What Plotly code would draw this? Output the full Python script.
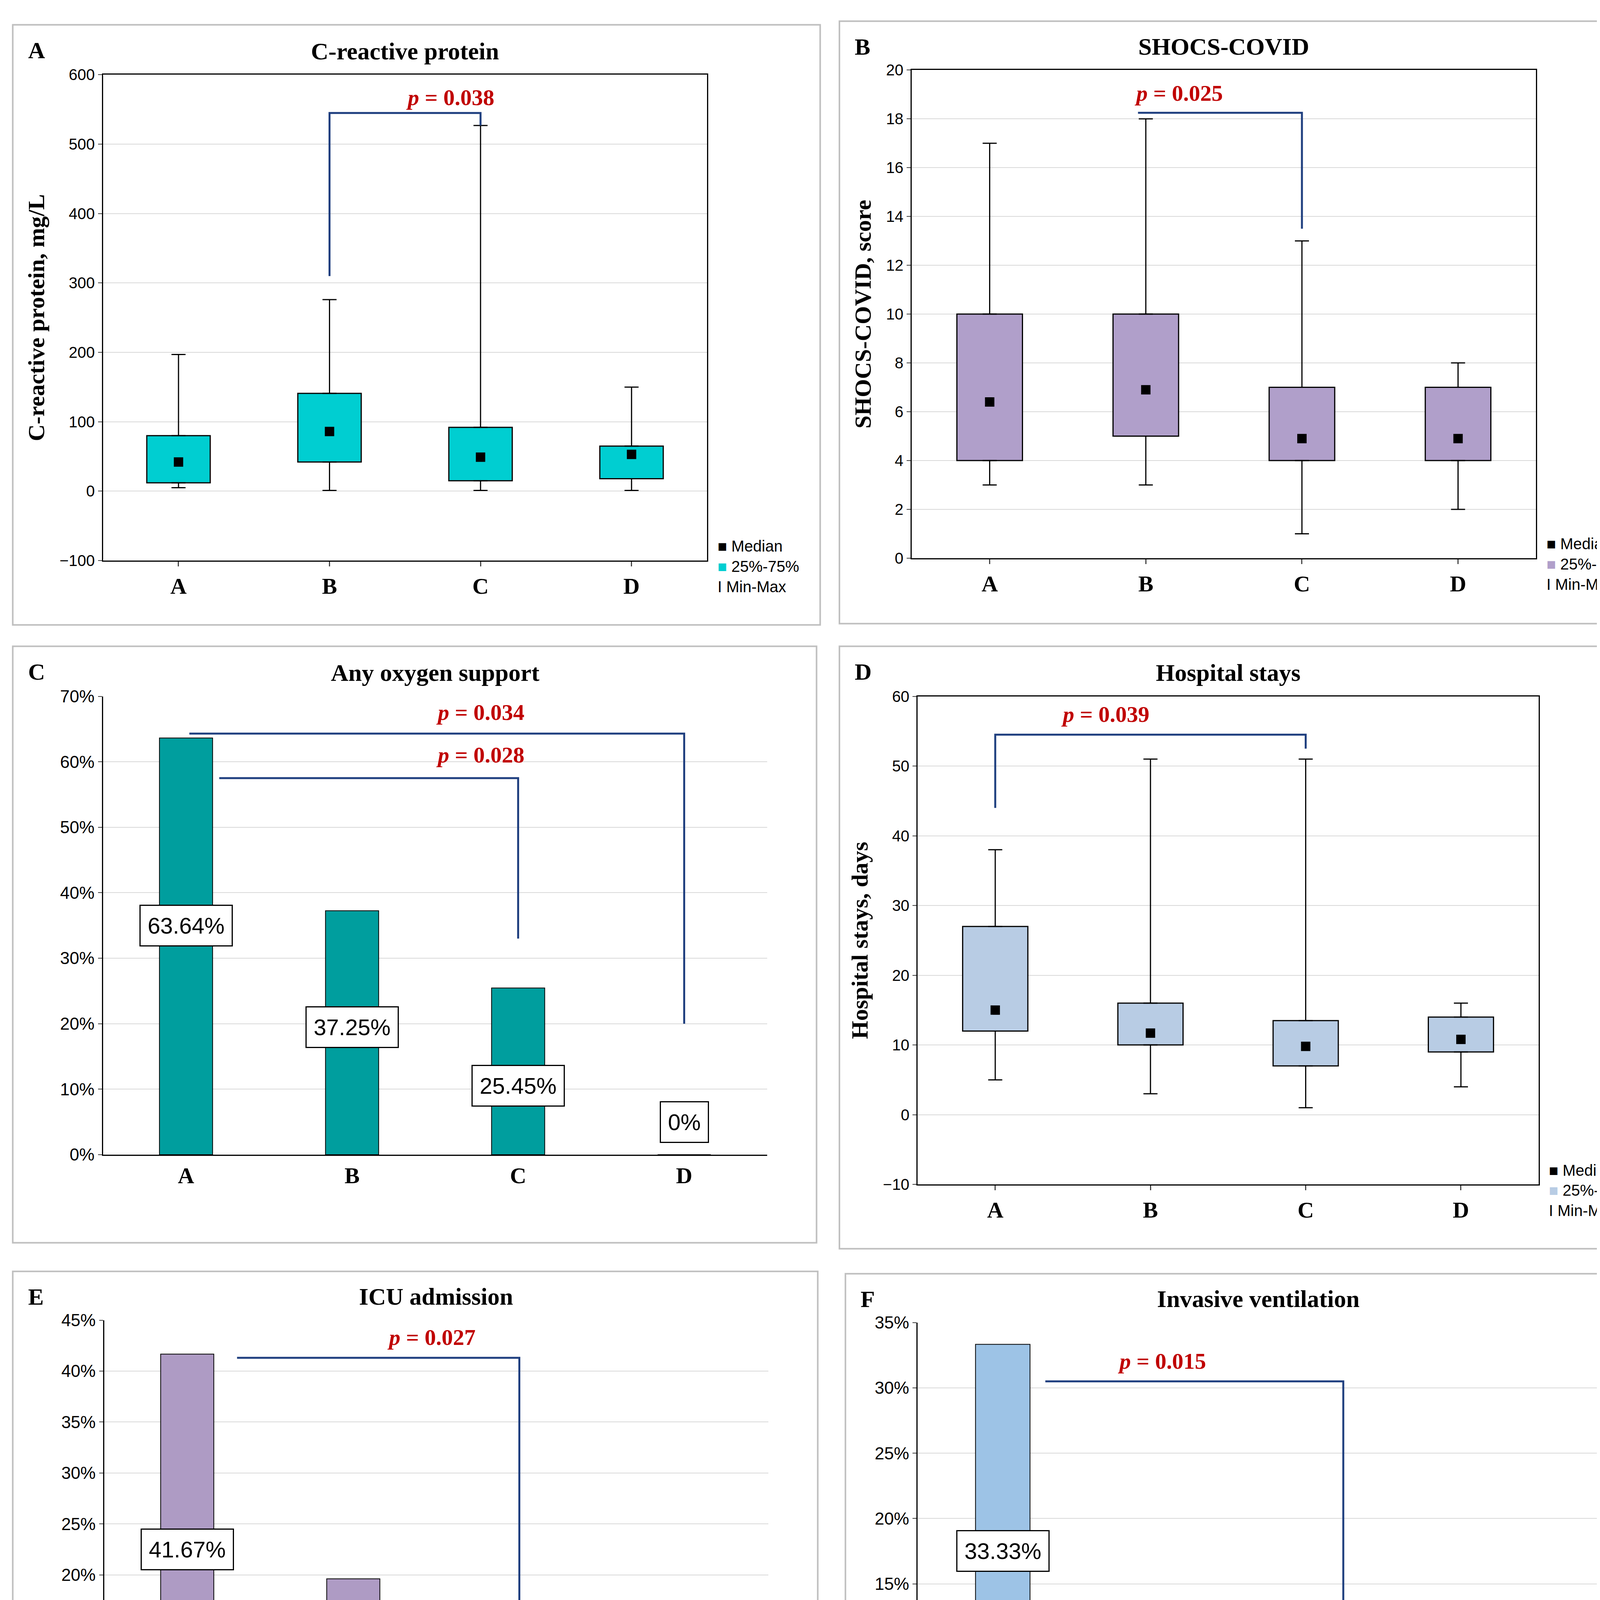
import plotly.graph_objects as go

cats = ["A", "B", "C", "D"]
# box panels: min, q1, median, q3, max
crp_min = [5, 1, 1, 1]; crp_q1 = [12, 42, 15, 18]; crp_med = [42, 86, 49, 53]; crp_q3 = [80, 141, 92, 65]; crp_max = [197, 276, 527, 150]
sh_min = [3, 3, 1, 2]; sh_q1 = [4, 5, 4, 4]; sh_med = [6.4, 6.9, 4.9, 4.9]; sh_q3 = [10, 10, 7, 7]; sh_max = [17, 18, 13, 8]
hs_min = [5, 3, 1, 4]; hs_q1 = [12, 10, 7, 9]; hs_med = [15, 11.7, 9.8, 10.8]; hs_q3 = [27, 16, 13.5, 14]; hs_max = [38, 51, 51, 16]
oxy = [63.64, 37.25, 25.45, 0]
icu = [41.67, 19.61, 10.71, 0]
inv = [33.33, 13.73, 5.36, 0]
oxy_lab_y = [35, 19.5, 10.5, 5]
icu_lab_y = [22.5, 9.3, 4.3, 3]
inv_lab_y = [17.5, 6.5, 2.4, 2]

W, H = 4251, 4819
IW, IH = 1380, 1565
def fx(x): return x / IW
def fy(y): return 1 - y / IH

SERIF = "Liberation Serif"
SANS = "Liberation Sans"
BR = "#1F3F7F"
PC = "#C00000"

fig = go.Figure()
layout = dict(width=W, height=H, paper_bgcolor="white", plot_bgcolor="white",
              margin=dict(l=0, r=0, t=0, b=0), showlegend=False)
shapes, anns = [], []

panels = [
    ("A", (8, 10, 679, 514), (83, 52, 585, 460), "C-reactive protein"),
    ("B", (695, 7, 1369, 513), (755, 48, 1274, 458), "SHOCS-COVID"),
    ("C", (8, 532, 676, 1033), (83, 574, 635, 959), "Any oxygen support"),
    ("D", (695, 532, 1369, 1038), (760, 574, 1276, 984), "Hospital stays"),
    ("E", (8, 1057, 677, 1557), (84, 1098, 636, 1483), "ICU admission"),
    ("F", (700, 1059, 1367, 1559), (760, 1100, 1326, 1484), "Invasive ventilation"),
]

for i, (letter, outer, pl, title) in enumerate(panels):
    shapes.append(dict(type="rect", xref="paper", yref="paper", x0=fx(outer[0]), x1=fx(outer[2]),
                       y0=fy(outer[3]), y1=fy(outer[1]), line=dict(color="#BFBFBF", width=4)))
    anns.append(dict(xref="paper", yref="paper", x=fx(outer[0] + 12), y=fy(outer[1] + 10), text="<b>%s</b>" % letter,
                     showarrow=False, xanchor="left", yanchor="top", font=dict(family=SERIF, size=60, color="black")))
    anns.append(dict(xref="paper", yref="paper", x=fx((pl[0] + pl[2]) / 2), y=fy(pl[1] - 8), text="<b>%s</b>" % title,
                     showarrow=False, xanchor="center", yanchor="bottom", font=dict(family=SERIF, size=62, color="black")))

def axes(i, pl, yrange, dtick, boxed, ticksuffix="", ytitle=None):
    n = "" if i == 0 else str(i + 1)
    layout["xaxis" + n] = dict(domain=[fx(pl[0]), fx(pl[2])], anchor="y" + n, type="category",
                               categoryorder="array", categoryarray=cats, range=[-0.5, 3.5],
                               showline=True, linecolor="black", linewidth=3, mirror=boxed,
                               ticks="outside" if boxed else "", ticklen=12, tickwidth=3,
                               tickfont=dict(family=SERIF, size=58, color="black", weight="bold"), showgrid=False)
    layout["yaxis" + n] = dict(domain=[fy(pl[3]), fy(pl[1])], anchor="x" + n, range=yrange, dtick=dtick,
                               showline=True, linecolor="black", linewidth=3, mirror=boxed,
                               ticks="outside", ticklen=10, tickwidth=2, ticksuffix=ticksuffix,
                               tickfont=dict(family=SANS, size=44 if not boxed else 40, color="black"),
                               showgrid=True, gridcolor="#D9D9D9", gridwidth=2, zeroline=False,
                               separatethousands=False, exponentformat="none")
    if ytitle:
        layout["yaxis" + n]["title"] = dict(text="<b>%s</b>" % ytitle, font=dict(family=SERIF, size=60, color="black"), standoff=20)
    return "x" + n, "y" + n

def boxpanel(i, pl, mn, q1, md, q3, mx, color, yrange, dtick, ytitle):
    xa, ya = axes(i, pl, yrange, dtick, True, ytitle=ytitle)
    fig.add_trace(go.Scatter(x=cats, y=q3, mode="markers", marker=dict(size=1, color="rgba(0,0,0,0)"),
                             error_y=dict(type="data", symmetric=False, array=[b - a for a, b in zip(q3, mx)],
                                          arrayminus=[0] * 4, color="black", thickness=3, width=18),
                             xaxis=xa, yaxis=ya))
    fig.add_trace(go.Scatter(x=cats, y=q1, mode="markers", marker=dict(size=1, color="rgba(0,0,0,0)"),
                             error_y=dict(type="data", symmetric=False, array=[0] * 4,
                                          arrayminus=[a - b for a, b in zip(q1, mn)], color="black", thickness=3, width=18),
                             xaxis=xa, yaxis=ya))
    fig.add_trace(go.Bar(x=cats, y=[b - a for a, b in zip(q1, q3)], base=q1, width=0.42,
                         marker=dict(color=color, line=dict(color="black", width=3)), xaxis=xa, yaxis=ya))
    fig.add_trace(go.Scatter(x=cats, y=md, mode="markers", marker=dict(symbol="square", size=24, color="black"),
                             xaxis=xa, yaxis=ya))
    lx = fx(pl[2] + 8)
    yb = pl[3]
    syms = ["■", "<span style='color:%s'>■</span>" % color, "I"]
    for k, (sym, txt) in enumerate(zip(syms, ["Median", "25%-75%", "Min-Max"])):
        anns.append(dict(xref="paper", yref="paper", x=lx, y=fy(yb - 12 + k * 17), text=sym + " " + txt,
                         showarrow=False, xanchor="left", yanchor="middle",
                         font=dict(family=SANS, size=40, color="black")))
    return xa, ya

def barpanel(i, pl, vals, laby, color, yrange, dtick):
    xa, ya = axes(i, pl, yrange, dtick, False, ticksuffix="%")
    fig.add_trace(go.Bar(x=cats, y=vals, width=0.32, marker=dict(color=color, line=dict(color="black", width=2)),
                         xaxis=xa, yaxis=ya))
    for c, v, ly in zip(cats, vals, laby):
        anns.append(dict(xref=xa, yref=ya, x=c, y=ly, text=("%.2f%%" % v) if v else "0%", showarrow=False,
                         bgcolor="white", bordercolor="black", borderwidth=3, borderpad=18,
                         font=dict(family=SANS, size=58, color="black")))
    return xa, ya

def bracket_paper(pl, yrange, pts, tx, ty, txt):
    def px(c): return fx(pl[0] + (c + 0.5) / 4 * (pl[2] - pl[0]))
    def py(v): return fy(pl[3] - (v - yrange[0]) / (yrange[1] - yrange[0]) * (pl[3] - pl[1]))
    path = "M " + " L ".join("%f,%f" % (px(c), py(v)) for c, v in pts)
    shapes.append(dict(type="path", xref="paper", yref="paper", path=path, line=dict(color=BR, width=5)))
    anns.append(dict(xref="paper", yref="paper", x=px(tx), y=py(ty), text="<b><i>p</i> = %s</b>" % txt,
                     showarrow=False, yanchor="bottom", font=dict(family=SERIF, size=58, color=PC)))

pA = panels[0][2]
boxpanel(0, pA, crp_min, crp_q1, crp_med, crp_q3, crp_max, "#00CED1", [-100, 600], 100, "C-reactive protein, mg/L")
bracket_paper(pA, [-100, 600], [(1, 310), (1, 545), (2, 545), (2, 527)], 1.5, 548, "0.038")

pB = panels[1][2]
boxpanel(1, pB, sh_min, sh_q1, sh_med, sh_q3, sh_max, "#B09FCA", [0, 20], 2, "SHOCS-COVID, score")
bracket_paper(pB, [0, 20], [(0.95, 18.25), (2, 18.25), (2, 13.5)], 1.5, 18.5, "0.025")

pC = panels[2][2]
barpanel(2, pC, oxy, oxy_lab_y, "#009E9E", [0, 70], 10)
bracket_paper(pC, [0, 70], [(0.02, 64.3), (3, 64.3), (3, 20)], 1.5, 65.5, "0.034")
bracket_paper(pC, [0, 70], [(0.2, 57.5), (2, 57.5), (2, 33)], 1.5, 59, "0.028")

pD = panels[3][2]
boxpanel(3, pD, hs_min, hs_q1, hs_med, hs_q3, hs_max, "#B8CCE4", [-10, 60], 10, "Hospital stays, days")
bracket_paper(pD, [-10, 60], [(0, 44), (0, 54.5), (2, 54.5), (2, 52.5)], 1, 55.5, "0.039")

pE = panels[4][2]
barpanel(4, pE, icu, icu_lab_y, "#AE9BC4", [0, 45], 5)
bracket_paper(pE, [0, 45], [(0.3, 41.3), (2, 41.3), (2, 15)], 1.2, 42, "0.027")

pF = panels[5][2]
barpanel(5, pF, inv, inv_lab_y, "#9DC3E6", [0, 35], 5)
bracket_paper(pF, [0, 35], [(0.25, 30.5), (2, 30.5), (2, 10)], 1.2, 31, "0.015")

layout["shapes"] = shapes
layout["annotations"] = anns
fig.update_layout(**layout)
fig.write_html("out.html")
